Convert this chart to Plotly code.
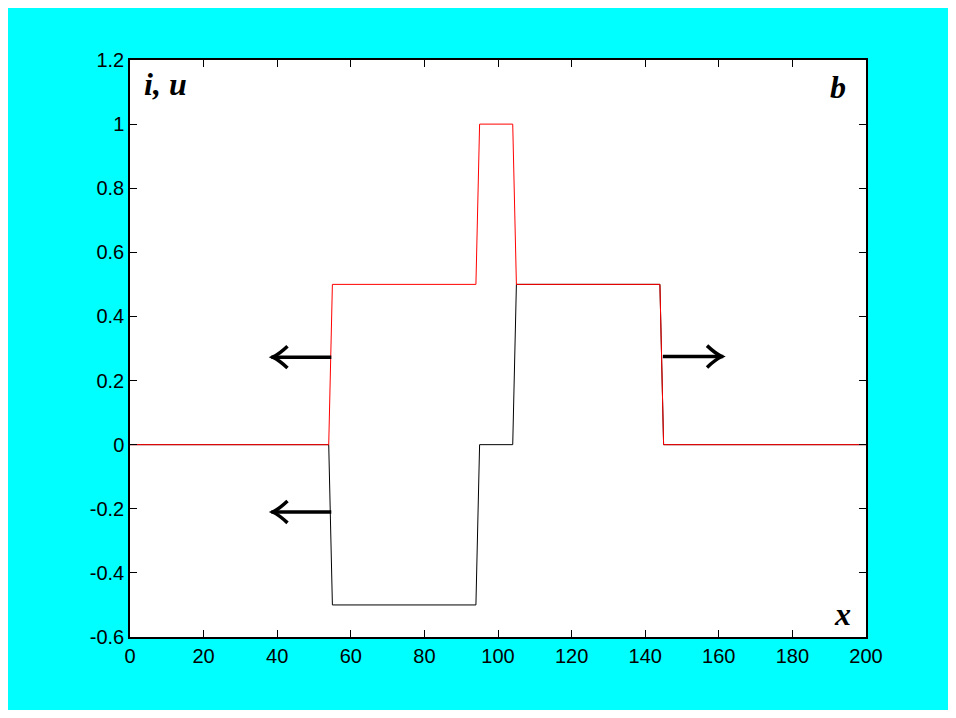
import plotly.graph_objects as go

# Data
x_red = [0, 54, 55, 94, 95, 104, 105, 144, 145, 200]
i_red = [0, 0, 0.5, 0.5, 1.0, 1.0, 0.5, 0.5, 0, 0]
x_black = [0, 54, 55, 94, 95, 104, 105, 144, 145, 200]
u_black = [0, 0, -0.5, -0.5, 0, 0, 0.5, 0.5, 0, 0]

# arrows: (x_start, x_end, y)
arrows = [(54.7, 38.8, 0.273), (54.7, 38.8, -0.21), (144.8, 160.8, 0.275)]

x_ticks = list(range(0, 201, 20))
y_ticks = [-0.6, -0.4, -0.2, 0, 0.2, 0.4, 0.6, 0.8, 1, 1.2]
y_tick_labels = ["-0.6", "-0.4", "-0.2", "0", "0.2", "0.4", "0.6", "0.8", "1", "1.2"]

fig = go.Figure()
fig.add_trace(go.Scatter(x=x_black, y=u_black, mode="lines",
                         line=dict(color="black", width=1), showlegend=False))
fig.add_trace(go.Scatter(x=x_red, y=i_red, mode="lines",
                         line=dict(color="red", width=1), showlegend=False))

shapes = []
for xs, xe, y in arrows:
    d = 1 if xe > xs else -1
    shapes.append(dict(type="line", x0=xs, x1=xe + d * 0.4, y0=y, y1=y, xref="x", yref="y",
                       line=dict(color="black", width=3.5)))
    path = (f"M {xe - d*4},{y+0.034} Q {xe - d*1.8},{y+0.01} {xe},{y} "
            f"Q {xe - d*1.8},{y-0.01} {xe - d*4},{y-0.034}")
    shapes.append(dict(type="path", path=path, xref="x", yref="y",
                       line=dict(color="black", width=3.5)))

tick_font = dict(family="Liberation Sans, Arial", size=20, color="black")
label_font = dict(family="Liberation Serif, Times New Roman", size=32, color="black")

fig.update_layout(
    width=940, height=702,
    paper_bgcolor="#00FFFF", plot_bgcolor="white",
    margin=dict(l=122, r=82, t=52, b=73),
    shapes=shapes,
    xaxis=dict(range=[0, 200], tickvals=x_ticks, ticks="inside", ticklen=7,
               tickcolor="black", mirror="ticks", showline=True, linecolor="black",
               linewidth=1.5, showgrid=False, zeroline=False, tickfont=tick_font),
    yaxis=dict(range=[-0.6, 1.2], tickvals=y_ticks, ticktext=y_tick_labels,
               ticks="inside", ticklen=7, tickcolor="black", mirror="ticks",
               showline=True, linecolor="black", linewidth=1.5, showgrid=False,
               zeroline=False, tickfont=tick_font),
    annotations=[
        dict(text="<b><i>i, u</i></b>", x=0.016, y=0.958, xref="paper", yref="paper",
             xanchor="left", yanchor="middle", showarrow=False, font=label_font),
        dict(text="<b><i>b</i></b>", x=0.975, y=0.954, xref="paper", yref="paper",
             xanchor="right", yanchor="middle", showarrow=False, font=label_font),
        dict(text="<b><i>x</i></b>", x=0.983, y=0.04, xref="paper", yref="paper",
             xanchor="right", yanchor="middle", showarrow=False, font=label_font),
    ],
)

fig.write_html("out.html")
